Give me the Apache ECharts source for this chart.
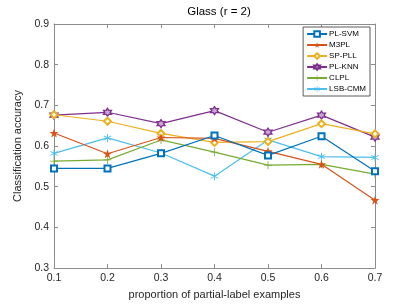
<!DOCTYPE html>
<html><head><meta charset="utf-8">
<script src="https://cdn.jsdelivr.net/npm/echarts@6/dist/echarts.min.js"></script>
<style>html,body{margin:0;padding:0;background:#fff}#c{width:415px;height:305px}</style>
</head><body><div id="c"></div>
<script>
var categories = ['0.1','0.2','0.3','0.4','0.5','0.6','0.7'];
var yTicks = [0.3,0.4,0.5,0.6,0.7,0.8,0.9];
var plSvm  = [0.545,0.545,0.582,0.626,0.577,0.624,0.538];
var m3pl   = [0.632,0.581,0.621,0.619,0.587,0.555,0.467];
var spPll  = [0.677,0.661,0.631,0.609,0.611,0.655,0.630];
var plKnn  = [0.676,0.683,0.655,0.687,0.634,0.676,0.622];
var clpl   = [0.563,0.566,0.615,0.585,0.553,0.555,0.531];
var lsbCmm = [0.582,0.620,0.583,0.526,0.615,0.574,0.572];
var names = ['PL-SVM','M3PL','SP-PLL','PL-KNN','CLPL','LSB-CMM'];
var colors = ['#0072BD','#D95319','#EDB120','#7E2F8E','#77AC30','#4DBEEE'];

var star = 'path://M50,0 L61.8,35.4 L99,35.4 L69,57.3 L80.4,92.7 L50,70.8 L19.6,92.7 L31,57.3 L1,35.4 L38.2,35.4 Z';
var hexa = 'path://M50,0 L64.4,25 L93.3,25 L78.9,50 L93.3,75 L64.4,75 L50,100 L35.6,75 L6.7,75 L21.1,50 L6.7,25 L35.6,25 Z';
var plus = 'path://M45,0 L55,0 L55,45 L100,45 L100,55 L55,55 L55,100 L45,100 L45,55 L0,55 L0,45 L45,45 Z';
var aster = 'path://M45,0 L55,0 L55,38 L87,19 L92,28 L60,47 L60,53 L92,72 L87,81 L55,62 L55,100 L45,100 L45,62 L13,81 L8,72 L40,53 L40,47 L8,28 L13,19 L45,38 Z';

var dataArr = [plSvm,m3pl,spPll,plKnn,clpl,lsbCmm];
var symbols = ['emptyRect',star,'emptyDiamond',hexa,plus,aster];
var sizes = [6,9,7,8,8,8];
var series = names.map(function(n,i){
  var item;
  if (i===3) item = {color:'#c9a6cf', borderColor:colors[i], borderWidth:1.3};
  else if (i===0 || i===2) item = {color:colors[i], borderWidth:1.2};
  else item = {color:colors[i], borderWidth:0};
  return {
    name:n, type:'line', data:dataArr[i], symbol:symbols[i], symbolSize:sizes[i],
    showAllSymbol:true,
    lineStyle:{color:colors[i], width:1.2},
    itemStyle:item,
    emphasis:{disabled:true}, animation:false, z: 10-i
  };
});

var axisCol = '#8c8c8c';
var labelCol = '#262626';
var chart = echarts.init(document.getElementById('c'));
chart.setOption({
  animation:false,
  title:{text:'Glass (r = 2)', left:214, top:1, textAlign:'center',
    textStyle:{fontSize:11.5, fontWeight:'normal', color:'#000', fontFamily:'Liberation Sans'}},
  grid:{left:54, right:40, top:24, bottom:33},
  legend:{data:names, orient:'vertical', right:45, top:27, itemWidth:20, itemHeight:7, itemGap:3,
    padding:[3,4,3,3], borderColor:'#333', borderWidth:0.8, backgroundColor:'#fff',
    textStyle:{fontSize:8, color:'#000', fontFamily:'Liberation Sans', padding:[0,0,0,-3]}},
  xAxis:[{type:'category', data:categories, boundaryGap:false,
    name:'proportion of partial-label examples', nameLocation:'middle', nameGap:18,
    nameTextStyle:{fontSize:11, color:labelCol, fontFamily:'Liberation Sans'},
    axisLine:{lineStyle:{color:axisCol}}, axisTick:{inside:true, length:4, lineStyle:{color:axisCol}},
    axisLabel:{fontSize:10.5, color:labelCol, margin:5, fontFamily:'Liberation Sans'}, splitLine:{show:false}},
   {type:'category', data:categories, boundaryGap:false, position:'top',
    axisLine:{lineStyle:{color:axisCol}}, axisTick:{inside:true, length:4, lineStyle:{color:axisCol}},
    axisLabel:{show:false}, splitLine:{show:false}}],
  yAxis:[{type:'value', min:0.3, max:0.9, interval:0.1,
    name:'Classification accuracy', nameLocation:'middle', nameGap:31,
    nameTextStyle:{fontSize:11, color:labelCol, fontFamily:'Liberation Sans'},
    axisLine:{show:true, lineStyle:{color:axisCol}}, axisTick:{show:true, inside:true, length:4, lineStyle:{color:axisCol}},
    axisLabel:{fontSize:10.5, color:labelCol, margin:5, fontFamily:'Liberation Sans',
      formatter:function(v){return (Math.round(v*10)/10).toFixed(1);}}, splitLine:{show:false}},
   {type:'value', min:0.3, max:0.9, interval:0.1, position:'right',
    axisLine:{show:true, lineStyle:{color:axisCol}}, axisTick:{show:true, inside:true, length:4, lineStyle:{color:axisCol}},
    axisLabel:{show:false}, splitLine:{show:false}}],
  series:series
});
</script></body></html>
